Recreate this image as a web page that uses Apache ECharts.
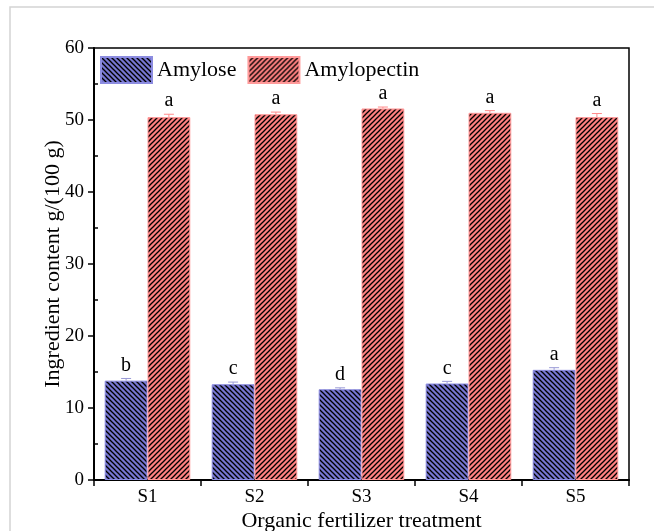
<!DOCTYPE html>
<html>
<head>
<meta charset="utf-8">
<script src="https://cdn.jsdelivr.net/npm/echarts@6/dist/echarts.min.js"></script>
<style>html,body{margin:0;padding:0;background:#fff;}#chart{width:654px;height:531px;}</style>
</head>
<body>
<div id="chart"></div>
<script>
const categories = ['S1', 'S2', 'S3', 'S4', 'S5'];
const amylose = [13.8, 13.3, 12.6, 13.4, 15.3];
const amylopectin = [50.4, 50.8, 51.6, 51.0, 50.4];
const amyloseErr = [0.3, 0.3, 0.2, 0.3, 0.3];
const amylopectinErr = [0.4, 0.3, 0.2, 0.3, 0.5];
const amyloseLetters = ['b', 'c', 'd', 'c', 'a'];
const amylopectinLetters = ['a', 'a', 'a', 'a', 'a'];
const yTicks = [0, 10, 20, 30, 40, 50, 60];

const FONT = '"Liberation Serif", "Times New Roman", serif';

function hatch(bg, dir) {
  const s = 5;
  const c = document.createElement('canvas');
  c.width = s; c.height = s;
  const ctx = c.getContext('2d');
  ctx.fillStyle = bg;
  ctx.fillRect(0, 0, s, s);
  ctx.strokeStyle = '#000';
  ctx.lineWidth = 1.3;
  for (let k = -1; k <= 1; k++) {
    ctx.beginPath();
    if (dir === 'back') {
      ctx.moveTo(k * s - 1, -1);
      ctx.lineTo(k * s + s + 1, s + 1);
    } else {
      ctx.moveTo(k * s - 1, s + 1);
      ctx.lineTo(k * s + s + 1, -1);
    }
    ctx.stroke();
  }
  return { image: c, repeat: 'repeat' };
}

const blueFill = hatch('#7676d2', 'back');
const redFill = hatch('#ff8080', 'fwd');

function errSeries(vals, errs, letters, offset, color) {
  return {
    type: 'custom',
    xAxisIndex: 0,
    yAxisIndex: 0,
    z: 10,
    silent: true,
    data: vals.map((v, i) => [i, v, errs[i]]),
    renderItem: function (params, api) {
      const i = api.value(0), v = api.value(1), e = api.value(2);
      const band = api.size([1, 0])[0];
      const top = api.coord([i, v + e]);
      const mid = api.coord([i, v]);
      const x = top[0] + offset * band;
      const hw = 5;
      return {
        type: 'group',
        children: [
          { type: 'line', shape: { x1: x, y1: top[1], x2: x, y2: mid[1] }, style: { stroke: color, lineWidth: 1 } },
          { type: 'line', shape: { x1: x - hw, y1: top[1], x2: x + hw, y2: top[1] }, style: { stroke: color, lineWidth: 1 } },
          { type: 'text', style: { text: letters[i], x: x, y: top[1] - 3, align: 'center', verticalAlign: 'bottom', font: '20px ' + FONT, fill: '#000' } }
        ]
      };
    }
  };
}

const chart = echarts.init(document.getElementById('chart'), null, { renderer: 'canvas' });
chart.setOption({
  animation: false,
  backgroundColor: '#fff',
  graphic: [{
    type: 'rect', z: -10, silent: true,
    shape: { x: 10, y: 7, width: 1000, height: 1000 },
    style: { fill: 'none', stroke: '#d4d4d4', lineWidth: 1.5 }
  }],
  grid: { left: 94, right: 25, top: 48, bottom: 51, outerBoundsMode: 'none', containLabel: false, show: true, borderColor: '#000', borderWidth: 1.5, backgroundColor: 'transparent' },
  legend: {
    left: 95, top: 51,
    itemWidth: 51, itemHeight: 26, itemGap: 11,
    icon: 'rect',
    data: ['Amylose', 'Amylopectin'],
    textStyle: { fontFamily: FONT, fontSize: 22, color: '#000' }
  },
  xAxis: [{
    type: 'category',
    data: categories,
    position: 'bottom',
    axisLine: { show: true, lineStyle: { color: '#000', width: 2 } },
    axisTick: { show: true, length: 6, lineStyle: { color: '#000', width: 1.5 } },
    axisLabel: { fontFamily: FONT, fontSize: 19, color: '#000', margin: 8 },
    name: 'Organic fertilizer treatment',
    nameLocation: 'middle',
    nameGap: 30,
    nameMoveOverlap: false,
    nameTextStyle: { fontFamily: FONT, fontSize: 22, color: '#000' }
  }, {
    type: 'category',
    data: categories,
    position: 'bottom',
    axisLine: { show: false },
    axisTick: { show: true, inside: true, alignWithLabel: true, length: 4, lineStyle: { color: '#000', width: 1.5 } },
    axisLabel: { show: false }
  }],
  yAxis: [{
    type: 'value',
    min: yTicks[0], max: yTicks[yTicks.length - 1], interval: 10,
    axisLine: { show: true, lineStyle: { color: '#000', width: 2 } },
    axisTick: { show: true, length: 6, lineStyle: { color: '#000', width: 1.5 } },
    axisLabel: { fontFamily: FONT, fontSize: 19, color: '#000', margin: 10 },
    splitLine: { show: false },
    name: 'Ingredient content g/(100 g)',
    nameLocation: 'middle',
    nameGap: 30,
    nameMoveOverlap: false,
    nameTextStyle: { fontFamily: FONT, fontSize: 22, color: '#000' }
  }, {
    type: 'value',
    position: 'left',
    min: yTicks[0], max: yTicks[yTicks.length - 1], interval: 10,
    axisLine: { show: false },
    axisTick: { show: false, inside: true },
    minorTick: { show: true, splitNumber: 2, length: 4, lineStyle: { color: '#000', width: 1.5 } },
    axisLabel: { show: false },
    splitLine: { show: false }
  }],
  series: [{
    name: 'Amylose',
    type: 'bar',
    xAxisIndex: 0, yAxisIndex: 0,
    data: amylose,
    barGap: '0%',
    barCategoryGap: '20%',
    itemStyle: { color: blueFill, borderColor: '#8c8ce0', borderWidth: 1 }
  }, {
    name: 'Amylopectin',
    type: 'bar',
    xAxisIndex: 0, yAxisIndex: 0,
    data: amylopectin,
    barGap: '0%',
    barCategoryGap: '20%',
    itemStyle: { color: redFill, borderColor: '#ff9a9a', borderWidth: 1 }
  },
  errSeries(amylose, amyloseErr, amyloseLetters, -0.2, '#9a9ad6'),
  errSeries(amylopectin, amylopectinErr, amylopectinLetters, 0.2, '#ff8a8a')
  ]
});
</script>
</body>
</html>
